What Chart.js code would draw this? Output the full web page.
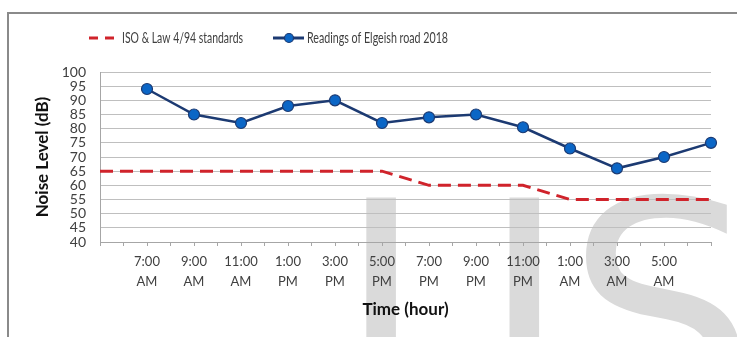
<!DOCTYPE html>
<html>
<head>
<meta charset="utf-8">
<script src="https://cdn.jsdelivr.net/npm/chart.js@4.4.1/dist/chart.umd.min.js"></script>
<style>
  html, body { margin: 0; padding: 0; background: #fff; }
  #wrap { width: 737px; height: 337px; }
</style>
</head>
<body>
<div id="wrap"><canvas id="noise" width="737" height="337"></canvas></div>
<script>
// category labels, index 0 and 13 are blank slots like the excel axis
const timeLabels = [
    '', ['7:00', 'AM'], ['9:00', 'AM'], ['11:00', 'AM'], ['1:00', 'PM'], ['3:00', 'PM'],
    ['5:00', 'PM'], ['7:00', 'PM'], ['9:00', 'PM'], ['11:00', 'PM'], ['1:00', 'AM'],
    ['3:00', 'AM'], ['5:00', 'AM'], ''
];
const standardValues = [65, 65, 65, 65, 65, 65, 65, 60, 60, 60, 55, 55, 55, 55];
const readingValues = [null, 94, 85, 82, 88, 90, 82, 84, 85, 80.5, 73, 66, 70, 75];
const yTicks = [40, 45, 50, 55, 60, 65, 70, 75, 80, 85, 90, 95, 100];
const seriesNames = ['ISO & Law 4/94 standards', 'Readings of Elgeish road 2018'];

const fontName = 'Lato, "Liberation Sans", sans-serif';
const textColor = '#404040';
const redColor = '#d0232b';
const navyColor = '#1c3a72';
const dotColor = '#0b66c6';

function toPoints(values) {
    return values.map(function(v, i) { return { x: i, y: v }; });
}

// text squeezed to a given width (the original used a narrow font)
function fitText(ctx, text, x, y, width) {
    const w = ctx.measureText(text).width;
    ctx.save();
    ctx.translate(x, y);
    ctx.scale(Math.min(1, width / w), 1);
    ctx.fillText(text, 0, 0);
    ctx.restore();
}

// frame + watermark behind everything
const backdrop = {
    id: 'backdrop',
    beforeDraw: function(chart) {
        const ctx = chart.ctx;
        ctx.save();
        ctx.fillStyle = '#dadada';
        ctx.font = '300px "DejaVu Sans"';
        ctx.textBaseline = 'alphabetic';
        const mI = ctx.measureText('I');
        const base = 196 + mI.actualBoundingBoxAscent;
        ctx.fillText('I', 365 + mI.actualBoundingBoxLeft, base);
        const mJ = ctx.measureText('J');
        ctx.fillText('J', 541 - mJ.actualBoundingBoxRight, base);
        const mS = ctx.measureText('S');
        ctx.fillText('SER', 585 + mS.actualBoundingBoxLeft, base);

        ctx.strokeStyle = '#8a8a8a';
        ctx.lineWidth = 2;
        ctx.beginPath();
        ctx.moveTo(740, 13);
        ctx.lineTo(8, 13);
        ctx.lineTo(8, 340);
        ctx.stroke();
        ctx.restore();
    }
};

// excel style legend: dashed line, and line with marker
const legendRow = {
    id: 'legendRow',
    afterDraw: function(chart) {
        const ctx = chart.ctx;
        const y = 38;
        ctx.save();
        ctx.lineWidth = 3;
        ctx.strokeStyle = redColor;
        ctx.setLineDash([9, 7]);
        ctx.beginPath();
        ctx.moveTo(89, y);
        ctx.lineTo(114, y);
        ctx.stroke();
        ctx.setLineDash([]);

        ctx.strokeStyle = navyColor;
        ctx.beginPath();
        ctx.moveTo(273, y);
        ctx.lineTo(304, y);
        ctx.stroke();
        ctx.beginPath();
        ctx.arc(289, y, 4.5, 0, Math.PI * 2);
        ctx.fillStyle = dotColor;
        ctx.fill();
        ctx.lineWidth = 1.2;
        ctx.stroke();

        ctx.fillStyle = textColor;
        ctx.font = '15px ' + fontName;
        ctx.textBaseline = 'middle';
        fitText(ctx, seriesNames[0], 122, y, 121);
        fitText(ctx, seriesNames[1], 307, y, 141);
        ctx.restore();
    }
};

const chart = new Chart(document.getElementById('noise'), {
    type: 'line',
    data: {
        datasets: [{
            label: seriesNames[0],
            data: toPoints(standardValues),
            borderColor: redColor,
            borderWidth: 3,
            borderDash: [13, 7],
            pointRadius: 0,
            tension: 0,
            clip: false
        }, {
            label: seriesNames[1],
            data: toPoints(readingValues),
            borderColor: navyColor,
            borderWidth: 2.5,
            pointRadius: 5.5,
            pointBackgroundColor: dotColor,
            pointBorderColor: navyColor,
            pointBorderWidth: 1.2,
            tension: 0,
            clip: false
        }]
    },
    options: {
        responsive: false,
        animation: false,
        layout: { padding: { top: 72, right: 26, left: 0, bottom: 0 } },
        plugins: {
            legend: { display: false },
            tooltip: { enabled: false }
        },
        scales: {
            x: {
                type: 'linear',
                min: 0,
                max: timeLabels.length - 1,
                afterFit: function(scale) { scale.height = 95; },
                grid: {
                    drawOnChartArea: false,
                    drawTicks: true,
                    tickLength: 4,
                    color: '#a6a6a6'
                },
                border: { color: '#a6a6a6' },
                ticks: {
                    stepSize: 0.5,
                    maxTicksLimit: 60,
                    autoSkip: false,
                    maxRotation: 0,
                    padding: 5,
                    color: textColor,
                    font: { family: fontName, size: 13, lineHeight: 1.6 },
                    callback: function(value) {
                        return Number.isInteger(value) ? timeLabels[value] : '';
                    }
                },
                title: {
                    display: true,
                    text: 'Time (hour)',
                    color: '#111',
                    font: { family: fontName, size: 17, weight: 'bold', lineHeight: 1.2 },
                    padding: { top: 0, bottom: 17 }
                }
            },
            y: {
                min: yTicks[0],
                max: yTicks[yTicks.length - 1],
                afterFit: function(scale) { scale.width = 100; },
                afterBuildTicks: function(scale) {
                    scale.ticks = yTicks.map(function(v) { return { value: v }; });
                },
                grid: { color: '#bfbfbf', drawTicks: false },
                border: { color: '#a6a6a6' },
                ticks: {
                    autoSkip: false,
                    padding: 14,
                    color: textColor,
                    font: { family: fontName, size: 14 }
                },
                title: {
                    display: true,
                    text: 'Noise Level (dB)',
                    color: '#111',
                    font: { family: fontName, size: 17, weight: 'bold', lineHeight: 1.2 },
                    padding: { top: 32, bottom: 0 }
                }
            }
        }
    },
    plugins: [backdrop, legendRow]
});
</script>
</body>
</html>
